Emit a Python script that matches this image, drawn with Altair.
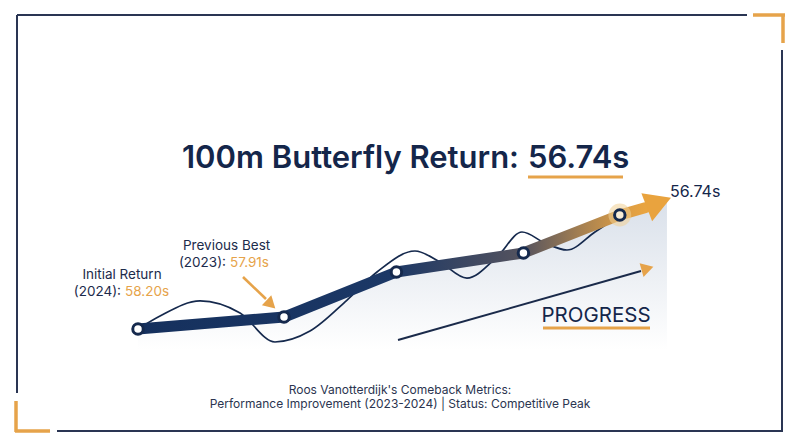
import altair as alt
import pandas as pd

# ---------------- data ----------------
stage_names = ["Initial Return", "Previous Best", "Build-up", "Pre-peak", "Competitive Peak"]
timeline = [0.0, 1.0, 1.77, 2.64, 3.30]          # position along the comeback timeline
progress = [0.0, 10.5, 50.0, 66.7, 100.0]        # improvement index (0 = initial, 100 = peak)
label_times = [58.20, 57.91, 56.74]              # initial, previous best, current (seconds)
label_years = ["2024", "2023"]

# decorative swim-wave that threads through the milestones
wave_timeline = [0.0, 0.151, 0.425, 0.699, 0.938, 1.178, 1.432, 1.637, 1.897,
                 2.068, 2.253, 2.459, 2.630, 2.788, 2.938, 3.130, 3.301]
wave_progress = [0.0, 11.4, 24.6, 14.0, -11.4, -1.8, 25.4, 50.0, 68.4,
                 58.8, 44.7, 63.2, 85.1, 75.4, 69.3, 85.1, 100.0]

# trend-arrow projection beyond the last milestone
arrow_timeline = [3.473]
arrow_progress = [106.3]
head_timeline = [3.540]
head_progress = [109.6]
shade_timeline = [3.623]
shade_progress = [114.0]
shade_base = -18.4

# ---------------- layout ----------------
W, H = 784, 431
OX, OY = 8, 8                     # page margin
X_ANCHOR, X_PX = 130, 146         # chart px of timeline 0, px per unit
Y_ANCHOR, Y_PX = 321, 1.14        # chart px of progress 0, px per unit

xs = alt.Scale(domain=[-X_ANCHOR / X_PX, (W - X_ANCHOR) / X_PX], nice=False, zero=False)
ys = alt.Scale(domain=[-(H - Y_ANCHOR) / Y_PX, Y_ANCHOR / Y_PX], nice=False, zero=False)

NAVY = "#15294d"
TEXT = "#1c2b4b"
GOLD = "#e6a34a"
FONT = "Inter"

def X(f="t"):
    return alt.X(f"{f}:Q", scale=xs, axis=None)

def Y(f="p"):
    return alt.Y(f"{f}:Q", scale=ys, axis=None)

one = pd.DataFrame({"k": [0]})

def seg(x1, y1, x2, y2, color, w, cap="butt"):
    return alt.Chart(one).mark_rule(color=color, strokeWidth=w, strokeCap=cap).encode(
        x=alt.value(x1 - OX), y=alt.value(y1 - OY),
        x2=alt.value(x2 - OX), y2=alt.value(y2 - OY))

def txt(s, x, y, size, color, align="left", weight=400):
    return alt.Chart(one).mark_text(
        text=s, align=align, baseline="alphabetic", font=FONT,
        fontSize=size, fontWeight=weight, color=color).encode(
        x=alt.value(x - OX), y=alt.value(y - OY))

def tri(x, y, size, angle, color):
    return alt.Chart(one).mark_point(
        shape="triangle", filled=True, size=size, angle=angle, color=color, opacity=1).encode(
        x=alt.value(x - OX), y=alt.value(y - OY))

# ---------------- frame ----------------
frame = [
    seg(17, 15, 747, 15, "#2a3553", 2),
    seg(17, 15, 17, 393, "#2a3553", 2),
    seg(57, 431, 783, 431, "#2a3553", 2),
    seg(782, 50, 782, 431, "#2a3553", 2),
    seg(753, 15, 785, 15, GOLD, 3.5),
    seg(783, 14, 783, 43, GOLD, 3.5),
    seg(16, 401, 16, 432, GOLD, 3.5),
    seg(15, 431, 50, 431, GOLD, 3.5),
]

# ---------------- data layers ----------------
main_df = pd.DataFrame({"t": timeline + arrow_timeline, "p": progress + arrow_progress})
pts_df = pd.DataFrame({"t": timeline, "p": progress, "stage": stage_names})
wave_df = pd.DataFrame({"t": wave_timeline, "p": wave_progress})
area_df = pd.DataFrame({"t": timeline + shade_timeline, "p": progress + shade_progress})
head_df = pd.DataFrame({"t": head_timeline, "p": head_progress})
last_df = pts_df.tail(1)
open_df = pts_df.head(4)

shade = alt.Chart(area_df).mark_area(
    fill=alt.Gradient(gradient="linear",
                      stops=[alt.GradientStop(offset=0, color="#d9e0ea"),
                             alt.GradientStop(offset=0.55, color="#eef1f5"),
                             alt.GradientStop(offset=1, color="#ffffff")],
                      x1=0, x2=0, y1=0, y2=1),
    interpolate="linear").encode(x=X(), y=Y(), y2=alt.datum(shade_base))

wave = alt.Chart(wave_df).mark_line(
    color=NAVY, strokeWidth=1.7, interpolate="monotone").encode(x=X(), y=Y())

main = alt.Chart(main_df).mark_line(
    stroke=alt.Gradient(gradient="linear",
                        stops=[alt.GradientStop(offset=0, color="#15305d"),
                               alt.GradientStop(offset=0.5, color="#1c3866"),
                               alt.GradientStop(offset=0.76, color="#55535e"),
                               alt.GradientStop(offset=0.87, color="#a37f52"),
                               alt.GradientStop(offset=0.96, color="#dc9d45"),
                               alt.GradientStop(offset=1, color="#e9a440")],
                        x1=0, x2=1, y1=0, y2=0),
    strokeWidth=11, strokeCap="round", strokeJoin="round").encode(x=X(), y=Y())

head = alt.Chart(head_df).mark_point(
    shape="triangle", filled=True, size=900, angle=69, color="#e9a33e", opacity=1).encode(x=X(), y=Y())

halo = alt.Chart(last_df).mark_point(
    shape="circle", filled=True, size=520, color="#f1cf94", opacity=0.55).encode(x=X(), y=Y())

dots = alt.Chart(open_df).mark_point(
    shape="circle", filled=True, size=110, fill="white", stroke=NAVY, strokeWidth=3, opacity=1).encode(x=X(), y=Y())

last_dot = alt.Chart(last_df).mark_point(
    shape="circle", filled=True, size=110, fill="#f8ecd6", stroke=NAVY, strokeWidth=3, opacity=1).encode(x=X(), y=Y())

# ---------------- annotations ----------------
annot = [
    # title
    txt("100m Butterfly Return:", 519, 168, 31, "#14264a", "right", 600),
    txt(f"{label_times[2]:.2f}s", 528, 168, 31, "#14264a", "left", 600),
    seg(528, 177, 623, 177, GOLD, 3),
    # initial return
    txt(stage_names[0], 122, 279, 13.5, TEXT, "center"),
    txt(f"({label_years[0]}):", 121, 296, 13.5, TEXT, "right"),
    txt(f"{label_times[0]:.2f}s", 125, 296, 13.5, GOLD, "left"),
    # previous best
    txt(stage_names[1], 183, 250, 13.5, TEXT, "left"),
    txt(f"({label_years[1]}):", 226, 267, 13.5, TEXT, "right"),
    txt(f"{label_times[1]:.2f}s", 230, 267, 13.5, GOLD, "left"),
    seg(243, 277, 266, 299, GOLD, 2.6),
    tri(269.5, 303, 190, 133, GOLD),
    # current value
    txt(f"{label_times[2]:.2f}s", 670, 197, 16, "#14264a", "left"),
    # progress arrow
    seg(398, 340, 641, 271, "#1a2a4a", 2),
    tri(645.5, 269, 200, 74, GOLD),
    txt("PROGRESS", 596, 322, 20.5, "#14264a", "center"),
    seg(543, 328, 650, 328, GOLD, 3),
    # footer
    txt("Roos Vanotterdijk's Comeback Metrics:", 400, 394, 12, "#2b3550", "center"),
    txt("Performance Improvement (2023-2024) | Status: Competitive Peak", 400, 408, 12, "#2b3550", "center"),
]

chart = alt.layer(
    *frame, shade, wave, main, head, halo, dots, last_dot, *annot
).properties(
    width=W, height=H, padding=0,
    autosize=alt.AutoSizeParams(type="none"),
    background="white",
).configure_view(strokeWidth=0)

chart.save("out.html", embed_options={"renderer": "svg", "actions": False})
